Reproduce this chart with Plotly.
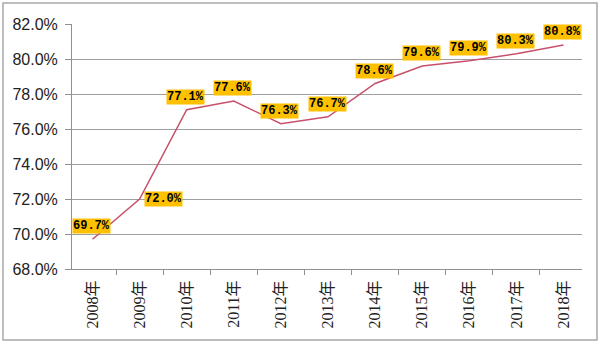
import plotly.graph_objects as go

years = ["2008年", "2009年", "2010年", "2011年", "2012年", "2013年",
         "2014年", "2015年", "2016年", "2017年", "2018年"]
rates = [69.7, 72.0, 77.1, 77.6, 76.3, 76.7, 78.6, 79.6, 79.9, 80.3, 80.8]
ytick_vals = [68, 70, 72, 74, 76, 78, 80, 82]
ytick_text = ["68.0%", "70.0%", "72.0%", "74.0%", "76.0%", "78.0%", "80.0%", "82.0%"]

fig = go.Figure()
fig.add_trace(go.Scatter(
    x=years, y=rates, mode="lines",
    line=dict(color="#C8506A", width=1.5),
    hoverinfo="skip", showlegend=False,
))

for i, (yr, v) in enumerate(zip(years, rates)):
    xs, ys = (24, 0) if i == 1 else (-1, 13)
    fig.add_annotation(
        x=yr, y=v, text=f"{v:.1f}%", showarrow=False,
        xshift=xs, yshift=ys,
        bgcolor="#FFC000", borderpad=0,
        font=dict(family="Liberation Mono, monospace", size=12, color="black", weight="bold"),
    )

# outer frame
fig.add_shape(type="rect", xref="paper", yref="paper",
              x0=-0.1353, x1=1.0294, y0=-0.2898, y1=1.0857,
              line=dict(color="#A8A8A8", width=1.5), fillcolor="rgba(0,0,0,0)",
              layer="below")

fig.update_layout(
    width=600, height=343,
    margin=dict(l=72, r=18, t=24, b=74),
    paper_bgcolor="white", plot_bgcolor="white",
    showlegend=False,
)
fig.update_xaxes(
    type="category", showgrid=False, showline=True, linecolor="#909090", linewidth=1,
    ticks="outside", ticklen=5, tickcolor="#909090", tickson="boundaries",
    tickangle=-90, ticklabelstandoff=4,
    tickfont=dict(family="Liberation Serif, Noto Sans CJK SC", size=16, color="#222"),
)
fig.update_yaxes(
    range=[68, 82], tickvals=ytick_vals, ticktext=ytick_text,
    showgrid=True, gridcolor="#A0A0A0", gridwidth=1,
    showline=True, linecolor="#909090", linewidth=1,
    ticks="outside", ticklen=6, tickcolor="#909090", ticklabelstandoff=4,
    tickfont=dict(family="Liberation Sans, sans-serif", size=16, color="#222"),
    zeroline=False,
)

fig.write_html("out.html")
